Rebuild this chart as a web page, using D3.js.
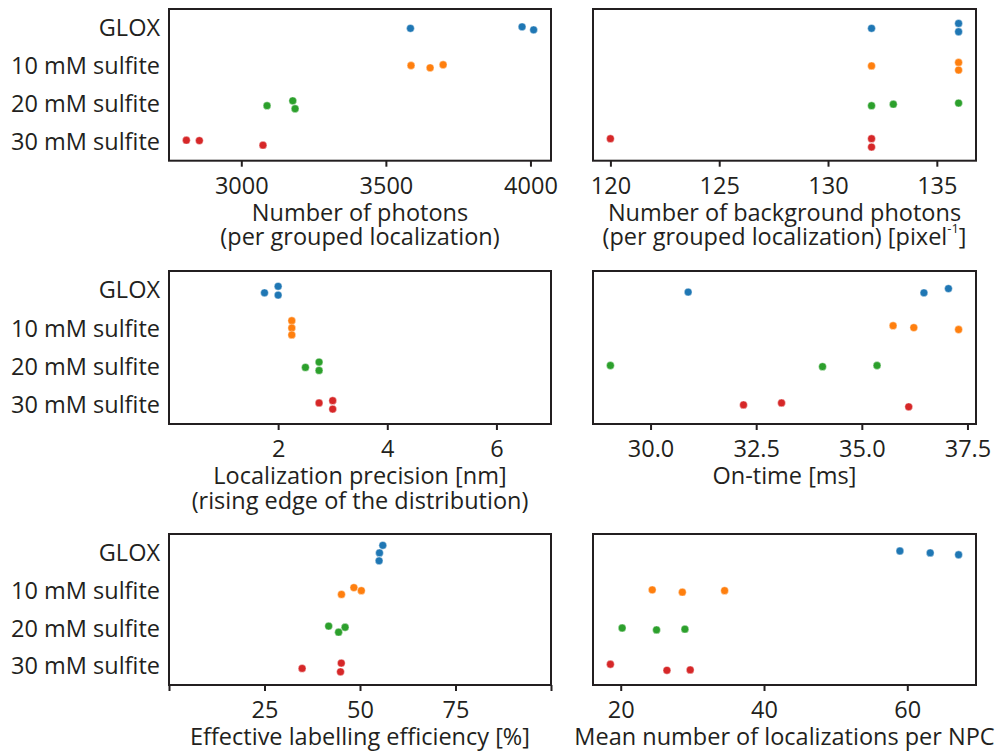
<!DOCTYPE html>
<html><head><meta charset="utf-8">
<script src="https://cdn.jsdelivr.net/npm/d3@7"></script>
<style>body{margin:0;background:#fff}</style>
</head><body>
<svg id="c" width="1000" height="753"></svg>
<script>
// ---------- data ----------
const categories = ["GLOX", "10 mM sulfite", "20 mM sulfite", "30 mM sulfite"];
const colors = ["#1f77b4", "#ff7f0e", "#2ca02c", "#d62728"];

const photons = [[3585, 3971, 4011], [3587, 3653, 3698], [3089, 3178, 3186], [2810, 2855, 3075]];
const photonsJitter = [[0.01, -0.03, 0.05], [-0.01, 0.05, -0.03], [0.05, -0.08, 0.13], [-0.04, -0.03, 0.09]];
const photonsTicks = [3000, 3500, 4000];

const background = [[132, 136, 136], [132, 136, 136], [132, 133, 136], [120, 132, 132]];
const backgroundJitter = [[0.01, -0.12, 0.10], [0.0, -0.09, 0.11], [0.05, 0.01, -0.02], [-0.08, -0.08, 0.14]];
const backgroundTicks = [120, 125, 130, 135];

const precision = [[1.75, 2.0, 2.0], [2.25, 2.25, 2.25], [2.5, 2.75, 2.75], [2.75, 3.0, 3.0]];
const precisionJitter = [[0.07, -0.10, 0.13], [-0.20, -0.01, 0.17], [0.02, -0.12, 0.10], [-0.05, -0.11, 0.11]];
const precisionTicks = [2, 4, 6];
const precisionLimits = [0, 7];

const onTime = [[30.89, 36.47, 37.05], [35.74, 36.23, 37.29], [29.05, 34.07, 35.36], [32.2, 33.1, 36.11]];
const onTimeJitter = [[0.05, 0.07, -0.04], [-0.07, -0.02, 0.03], [-0.03, 0.0, -0.03], [0.0, -0.05, 0.05]];
const onTimeTicks = [30, 32.5, 35, 37.5];

const efficiency = [[55.97, 55.1, 55.0], [45.15, 48.4, 50.35], [41.8, 44.4, 46.1], [34.85, 45.1, 44.9]];
const efficiencyJitter = [[-0.2, 0.0, 0.21], [0.1, -0.08, 0.0], [-0.06, 0.1, -0.03], [0.06, -0.08, 0.15]];
const efficiencyTicks = [0, 25, 50, 75, 100];
const efficiencyTickLabels = ["", "25", "50", "75", ""];
const efficiencyLimits = [0, 100];

const locsPerNPC = [[58.97, 63.2, 67.16], [24.4, 28.6, 34.5], [20.2, 25.0, 28.96], [18.56, 26.45, 29.7]];
const locsPerNPCJitter = [[-0.05, 0.0, 0.05], [-0.02, 0.04, 0.0], [-0.01, 0.04, 0.02], [-0.05, 0.11, 0.10]];
const locsPerNPCTicks = [20, 40, 60];

// ---------- layout ----------
const FONT = "'Open Sans', sans-serif";
const FS = 23.5;
const TXT = "#231f20";
const cols = [[169, 551], [593, 976]];
const rows = [[9, 160.7], [271, 424], [534, 685]];

function padded(vals) {
  const flat = vals.flat();
  const [a, b] = d3.extent(flat);
  const m = (b - a) * 0.05;
  return [a - m, b + m];
}

const panels = [
  {r: 0, c: 0, values: photons, jitter: photonsJitter, ticks: photonsTicks, fmt: d3.format("d"),
   domain: padded(photons), label: [["Number of photons"], ["(per grouped localization)"]]},
  {r: 0, c: 1, values: background, jitter: backgroundJitter, ticks: backgroundTicks, fmt: d3.format("d"),
   domain: padded(background), label: [["Number of background photons"], ["(per grouped localization) [pixel", "-1", "]"]]},
  {r: 1, c: 0, values: precision, jitter: precisionJitter, ticks: precisionTicks, fmt: d3.format("d"),
   domain: precisionLimits, label: [["Localization precision [nm]"], ["(rising edge of the distribution)"]]},
  {r: 1, c: 1, values: onTime, jitter: onTimeJitter, ticks: onTimeTicks, fmt: d3.format(".1f"),
   domain: padded(onTime), label: [["On-time [ms]"]]},
  {r: 2, c: 0, values: efficiency, jitter: efficiencyJitter, ticks: efficiencyTicks,
   fmt: (d, i) => efficiencyTickLabels[i], domain: efficiencyLimits, label: [["Effective labelling efficiency [%]"]]},
  {r: 2, c: 1, values: locsPerNPC, jitter: locsPerNPCJitter, ticks: locsPerNPCTicks, fmt: d3.format("d"),
   domain: padded(locsPerNPC), label: [["Mean number of localizations per NPC"]]}
];

const svg = d3.select("#c");

panels.forEach(p => {
  const [x0, x1] = cols[p.c];
  const [y0, y1] = rows[p.r];
  const x = d3.scaleLinear().domain(p.domain).range([x0, x1]);
  const y = d3.scaleLinear().domain([-0.5, categories.length - 0.5]).range([y0, y1]);
  const g = svg.append("g");

  // points
  const pts = [];
  p.values.forEach((arr, ci) => arr.forEach((v, k) => pts.push({ci, v, j: p.jitter[ci][k]})));
  g.selectAll("circle").data(pts).join("circle")
    .attr("cx", d => x(d.v))
    .attr("cy", d => y(d.ci + d.j))
    .attr("r", 3.9)
    .attr("fill", d => colors[d.ci])
    .attr("stroke", "#fff").attr("stroke-width", 0.4);

  // x axis
  const ax = g.append("g").attr("transform", `translate(0,${y1})`)
    .call(d3.axisBottom(x).tickValues(p.ticks).tickFormat(p.fmt).tickSize(6).tickPadding(3));
  ax.select(".domain").remove();
  ax.selectAll(".tick line").attr("stroke", "#231f20").attr("stroke-width", 2);
  ax.selectAll(".tick text").attr("font-family", FONT).attr("font-size", FS).attr("fill", TXT)
    .attr("dy", null).attr("y", 33);

  // frame
  g.append("rect").attr("x", x0).attr("y", y0).attr("width", x1 - x0).attr("height", y1 - y0)
    .attr("fill", "none").attr("stroke", "#231f20").attr("stroke-width", 2);

  // x label
  const cx = (x0 + x1) / 2;
  p.label.forEach((line, li) => {
    const t = g.append("text").attr("x", cx).attr("y", y1 + 60 + li * 24.5)
      .attr("text-anchor", "middle").attr("font-family", FONT).attr("font-size", FS).attr("fill", TXT);
    line.forEach((seg, si) => {
      if (line.length === 3 && si === 1) {
        t.append("tspan").attr("font-size", FS * 0.55).attr("baseline-shift", "95%").text(seg);
      } else {
        t.append("tspan").text(seg);
      }
    });
  });

  // y category labels (left column only)
  if (p.c === 0) {
    g.selectAll("text.cat").data(categories).join("text").attr("class", "cat")
      .attr("x", 160).attr("y", (d, i) => y(i)).attr("dy", "0.35em")
      .attr("text-anchor", "end").attr("font-family", FONT).attr("font-size", FS).attr("fill", TXT)
      .text(d => d);
  }
});
</script>
</body></html>
